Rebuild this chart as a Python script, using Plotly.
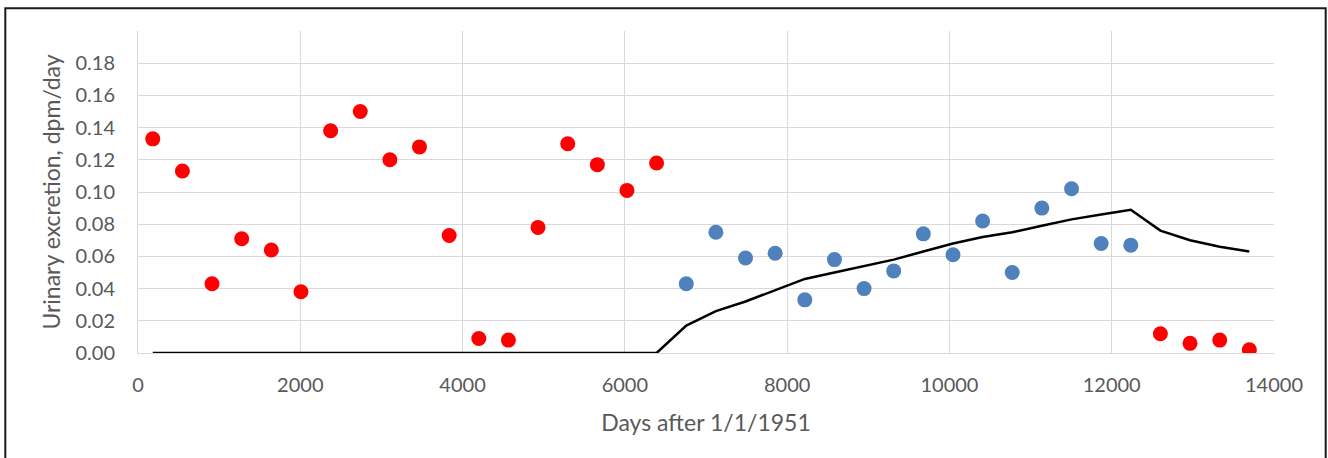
import plotly.graph_objects as go

# Data
days_red1 = [182, 547, 912, 1278, 1643, 2008, 2374, 2739, 3104, 3469,
             3835, 4200, 4565, 4930, 5296, 5661, 6026, 6391]
vals_red1 = [0.133, 0.113, 0.043, 0.071, 0.064, 0.038, 0.138, 0.150, 0.120, 0.128,
             0.073, 0.009, 0.008, 0.078, 0.130, 0.117, 0.101, 0.118]

days_blue = [6757, 7122, 7487, 7852, 8218, 8583, 8948, 9313, 9678, 10044,
             10409, 10774, 11139, 11505, 11870, 12235]
vals_blue = [0.043, 0.075, 0.059, 0.062, 0.033, 0.058, 0.040, 0.051, 0.074, 0.061,
             0.082, 0.050, 0.090, 0.102, 0.068, 0.067]

days_red2 = [12600, 12965, 13331, 13696]
vals_red2 = [0.012, 0.006, 0.008, 0.002]

days_model = days_red1 + days_blue + days_red2
vals_model = [0, 0, 0, 0, 0, 0, 0, 0, 0, 0, 0, 0, 0, 0, 0, 0, 0, 0,
              0.017, 0.026, 0.032, 0.039, 0.046, 0.050, 0.054, 0.058, 0.063, 0.068,
              0.072, 0.075, 0.079, 0.083, 0.086, 0.089,
              0.076, 0.070, 0.066, 0.063]

x_ticks = [0, 2000, 4000, 6000, 8000, 10000, 12000, 14000]
y_ticks = [0.00, 0.02, 0.04, 0.06, 0.08, 0.10, 0.12, 0.14, 0.16, 0.18]
y_tick_text = ["%.2f" % v for v in y_ticks]

FONT = "Lato"
GREY = "#595959"

fig = go.Figure()
fig.add_trace(go.Scatter(x=days_model, y=vals_model, mode="lines",
                         line=dict(color="black", width=2.5), showlegend=False))
fig.add_trace(go.Scatter(x=days_red1, y=vals_red1, mode="markers",
                         marker=dict(color="#ff0000", size=15), showlegend=False))
fig.add_trace(go.Scatter(x=days_blue, y=vals_blue, mode="markers",
                         marker=dict(color="#4f81bd", size=15), showlegend=False))
fig.add_trace(go.Scatter(x=days_red2, y=vals_red2, mode="markers",
                         marker=dict(color="#ff0000", size=15), showlegend=False))

fig.update_layout(
    width=1328, height=458,
    margin=dict(l=138, r=54, t=31, b=105),
    paper_bgcolor="white", plot_bgcolor="white",
    font=dict(family=FONT, size=20, color=GREY),
    xaxis=dict(range=[0, 14000], tickvals=x_ticks, ticktext=[str(t) for t in x_ticks],
               showgrid=True, gridcolor="#d9d9d9", gridwidth=1,
               showline=True, linecolor="#d9d9d9", linewidth=1,
               zeroline=False, ticks="", ticklabelstandoff=14,
               title=dict(text="Days after 1/1/1951", standoff=19,
                          font=dict(family=FONT, size=23, color=GREY))),
    yaxis=dict(range=[0, 0.2], tickvals=y_ticks, ticktext=y_tick_text,
               showgrid=True, gridcolor="#d9d9d9", gridwidth=1,
               showline=True, linecolor="#d9d9d9", linewidth=1,
               zeroline=False, ticks="", ticklabelstandoff=18,
               title=dict(text="Urinary excretion, dpm/day", standoff=8,
                          font=dict(family=FONT, size=23, color=GREY))),
)

# Outer chart border
fig.add_shape(type="rect", xref="paper", yref="paper",
              x0=-0.1168, x1=1.0455, y0=-0.6, y1=1.0705,
              line=dict(color="#1a1a1a", width=2), layer="below")

fig.write_html("out.html", config={"displayModeBar": False},
               post_script="document.body.style.margin='0px';document.body.style.overflow='hidden';")
